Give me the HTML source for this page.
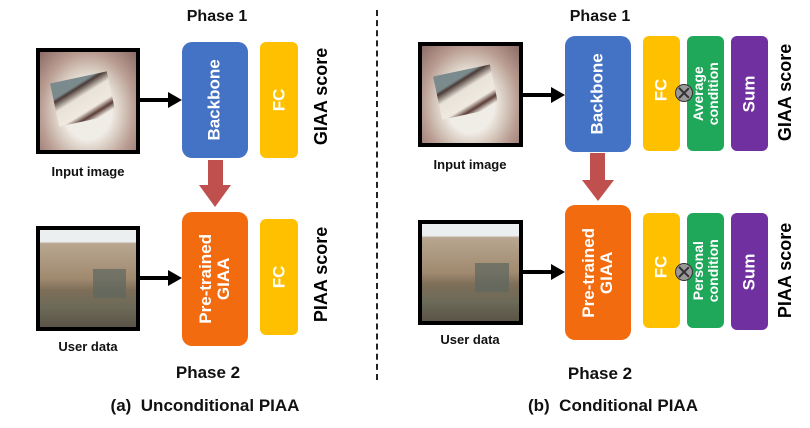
<!DOCTYPE html>
<html><head><meta charset="utf-8"><style>
body{margin:0;width:810px;height:428px;background:#fff;position:relative;overflow:hidden;font-family:"Liberation Sans",sans-serif;font-weight:bold;color:#111}
.a{position:absolute}
.box{position:absolute;display:flex;align-items:center;justify-content:center}
.v{transform:rotate(-90deg);white-space:nowrap;color:#fff;text-align:center;line-height:1.05}
.t{position:absolute;white-space:nowrap;transform:translateX(-50%)}
.img{position:absolute;border:4px solid #000;box-sizing:border-box}
.cake{background:radial-gradient(ellipse at 50% 60%,#f0ece6 0 35%,#d8cbc0 50%,#b99c92 70%,#8c6b66 100%)}
.cake:after{content:"";position:absolute;left:15%;top:25%;width:60%;height:45%;background:linear-gradient(160deg,#7b8a8c 0 25%,#4a3a36 30%,#e8e2d8 45%,#efe9df 70%,#5a3c36 80%,transparent 90%);transform:rotate(-12deg)}
.house{background:linear-gradient(180deg,#eceff0 0 12%,#b8a690 14%,#a08a70 50%,#7e6e58 62%,#6c6a58 80%,#5a5446 100%)}
.house:after{content:"";position:absolute;left:55%;top:40%;width:35%;height:30%;background:#5d6660;opacity:.7}
.ar{position:absolute;height:4px;background:#000}
.ah{position:absolute;width:0;height:0;border-top:8px solid transparent;border-bottom:8px solid transparent;border-left:14px solid #000}
.x{position:absolute;width:18px;height:18px;border-radius:50%;background:#999;border:1.5px solid #333;box-sizing:border-box}
.x:before,.x:after{content:"";position:absolute;left:7px;top:1px;width:1.5px;height:14px;background:#333;transform:rotate(45deg)}
.x:after{transform:rotate(-45deg)}
</style></head><body>
<!-- LEFT -->
<div class="t" style="left:217px;top:8px;font-size:16px">Phase 1</div>
<div class="img cake" style="left:36px;top:48px;width:104px;height:106px"></div>
<div class="t" style="left:88px;top:164px;font-size:13px">Input image</div>
<div class="ar" style="left:140px;top:98px;width:30px"></div><div class="ah" style="left:168px;top:92px"></div>
<div class="box" style="left:182px;top:42px;width:66px;height:116px;background:#4472c4;border-radius:10px"><div class="v" style="font-size:17px">Backbone</div></div>
<div class="box" style="left:260px;top:42px;width:38px;height:116px;background:#ffc000;border-radius:6px"><div class="v" style="font-size:17px">FC</div></div>
<div class="box" style="left:312px;top:50px;width:20px;height:92px"><div class="v" style="color:#000;font-size:18px">GIAA score</div></div>
<div class="a" style="left:208px;top:160px;width:15px;height:26px;background:#c0504d"></div>
<div class="a" style="left:199px;top:185px;width:0;height:0;border-left:16px solid transparent;border-right:16px solid transparent;border-top:22px solid #c0504d"></div>
<div class="box" style="left:182px;top:212px;width:66px;height:134px;background:#f26b0f;border-radius:10px"><div class="v" style="font-size:17px">Pre-trained<br>GIAA</div></div>
<div class="box" style="left:260px;top:219px;width:38px;height:116px;background:#ffc000;border-radius:6px"><div class="v" style="font-size:17px">FC</div></div>
<div class="box" style="left:312px;top:226px;width:20px;height:96px"><div class="v" style="color:#000;font-size:18px">PIAA score</div></div>
<div class="img house" style="left:36px;top:226px;width:104px;height:105px"></div>
<div class="t" style="left:88px;top:339px;font-size:13px">User data</div>
<div class="ar" style="left:140px;top:276px;width:30px"></div><div class="ah" style="left:168px;top:270px"></div>
<div class="t" style="left:208px;top:363px;font-size:17px">Phase 2</div>
<div class="t" style="left:205px;top:396px;font-size:17px">(a)&nbsp; Unconditional PIAA</div>
<div class="a" style="left:376px;top:10px;height:370px;border-left:2px dashed #222"></div>
<!-- RIGHT -->
<div class="t" style="left:600px;top:8px;font-size:16px">Phase 1</div>
<div class="img cake" style="left:418px;top:42px;width:105px;height:105px"></div>
<div class="t" style="left:470px;top:157px;font-size:13px">Input image</div>
<div class="ar" style="left:523px;top:93px;width:30px"></div><div class="ah" style="left:551px;top:87px"></div>
<div class="box" style="left:565px;top:36px;width:66px;height:116px;background:#4472c4;border-radius:10px"><div class="v" style="font-size:17px">Backbone</div></div>
<div class="box" style="left:643px;top:36px;width:37px;height:115px;background:#ffc000;border-radius:6px"><div class="v" style="font-size:17px;margin-top:-8px">FC</div></div>
<div class="box" style="left:687px;top:36px;width:37px;height:115px;background:#1fa85a;border-radius:6px"><div class="v" style="font-size:14px">Average<br>condition</div></div>
<div class="box" style="left:731px;top:36px;width:37px;height:115px;background:#7030a0;border-radius:6px"><div class="v" style="font-size:17px">Sum</div></div>
<div class="x" style="left:675px;top:84px"></div>
<div class="box" style="left:776px;top:46px;width:20px;height:92px"><div class="v" style="color:#000;font-size:18px">GIAA score</div></div>
<div class="a" style="left:590px;top:153px;width:15px;height:28px;background:#c0504d"></div>
<div class="a" style="left:582px;top:180px;width:0;height:0;border-left:16px solid transparent;border-right:16px solid transparent;border-top:21px solid #c0504d"></div>
<div class="box" style="left:565px;top:205px;width:66px;height:135px;background:#f26b0f;border-radius:10px"><div class="v" style="font-size:17px">Pre-trained<br>GIAA</div></div>
<div class="box" style="left:643px;top:213px;width:37px;height:115px;background:#ffc000;border-radius:6px"><div class="v" style="font-size:17px;margin-top:-8px">FC</div></div>
<div class="box" style="left:687px;top:213px;width:37px;height:115px;background:#1fa85a;border-radius:6px"><div class="v" style="font-size:14px">Personal<br>condition</div></div>
<div class="box" style="left:731px;top:213px;width:37px;height:117px;background:#7030a0;border-radius:6px"><div class="v" style="font-size:17px">Sum</div></div>
<div class="x" style="left:675px;top:263px"></div>
<div class="box" style="left:776px;top:222px;width:20px;height:96px"><div class="v" style="color:#000;font-size:18px">PIAA score</div></div>
<div class="img house" style="left:418px;top:220px;width:105px;height:105px"></div>
<div class="t" style="left:470px;top:332px;font-size:13px">User data</div>
<div class="ar" style="left:523px;top:270px;width:30px"></div><div class="ah" style="left:551px;top:264px"></div>
<div class="t" style="left:600px;top:364px;font-size:17px">Phase 2</div>
<div class="t" style="left:613px;top:396px;font-size:17px">(b)&nbsp; Conditional PIAA</div>
</body></html>
